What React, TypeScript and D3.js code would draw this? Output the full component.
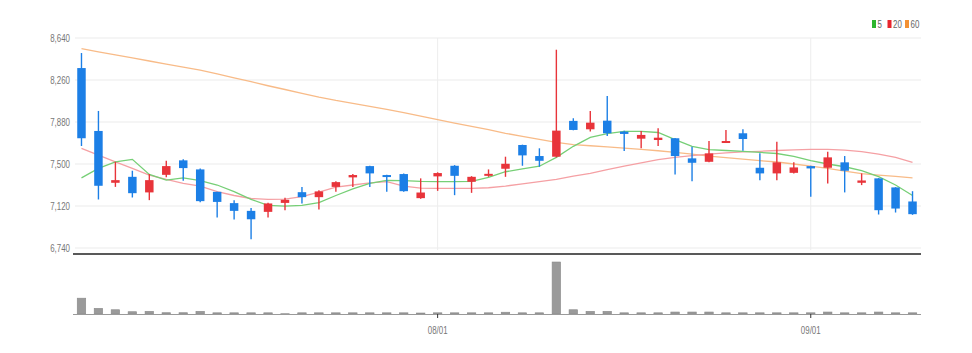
import React, { useRef, useEffect } from 'react';
import * as d3 from 'd3';

// trading days (MM/DD)
const dates = [
  '07/01', '07/04', '07/05', '07/06', '07/07', '07/08', '07/11', '07/12', '07/13', '07/14',
  '07/15', '07/18', '07/19', '07/20', '07/21', '07/22', '07/25', '07/26', '07/27', '07/28',
  '07/29', '08/01', '08/02', '08/03', '08/04', '08/05', '08/08', '08/09', '08/10', '08/11',
  '08/12', '08/16', '08/17', '08/18', '08/19', '08/22', '08/23', '08/24', '08/25', '08/26',
  '08/29', '08/30', '08/31', '09/01', '09/02', '09/05', '09/06', '09/07', '09/08', '09/13',
];

const opens = [
  8368, 7799, 7330, 7384, 7243, 7402, 7533, 7451, 7248, 7146,
  7076, 7067, 7148, 7245, 7200, 7293, 7379, 7481, 7400, 7409,
  7191, 7388, 7484, 7339, 7397, 7457, 7672, 7572, 7566, 7890,
  7814, 7892, 7793, 7729, 7717, 7733, 7551, 7520, 7693, 7778,
  7466, 7415, 7420, 7481, 7466, 7515, 7330, 7370, 7288, 7161,
];
const highs = [
  8504, 7980, 7520, 7439, 7409, 7529, 7542, 7460, 7250, 7173,
  7103, 7150, 7194, 7293, 7262, 7345, 7410, 7484, 7402, 7415,
  7370, 7425, 7490, 7390, 7451, 7566, 7675, 7642, 8534, 7914,
  7980, 8116, 7800, 7799, 7823, 7735, 7657, 7708, 7808, 7814,
  7597, 7702, 7515, 7485, 7611, 7572, 7415, 7372, 7290, 7254,
];
const lows = [
  7663, 7179, 7293, 7197, 7173, 7379, 7348, 7155, 7016, 6998,
  6819, 7016, 7082, 7143, 7088, 7248, 7293, 7293, 7248, 7248,
  7185, 7257, 7218, 7239, 7384, 7384, 7484, 7475, 7560, 7805,
  7793, 7753, 7617, 7642, 7663, 7406, 7345, 7515, 7690, 7620,
  7354, 7354, 7415, 7203, 7324, 7243, 7309, 7043, 7061, 7040,
];
const closes = [
  7733, 7303, 7354, 7236, 7354, 7481, 7463, 7164, 7157, 7076,
  7000, 7143, 7176, 7200, 7252, 7336, 7400, 7415, 7382, 7254,
  7242, 7418, 7393, 7384, 7411, 7502, 7578, 7529, 7802, 7808,
  7874, 7778, 7772, 7763, 7738, 7572, 7511, 7596, 7708, 7726,
  7415, 7515, 7469, 7460, 7560, 7439, 7351, 7082, 7097, 7046,
];
const volumes = [
  160, 57, 43, 23, 27, 13, 13, 27, 12, 12,
  12, 12, 3, 12, 12, 12, 12, 12, 12, 12,
  10, 12, 12, 12, 12, 18, 12, 12, 526, 43,
  27, 27, 12, 12, 12, 20, 20, 20, 12, 12,
  12, 12, 12, 12, 20, 12, 12, 20, 12, 12,
];

// moving averages
const ma5 = [
  7375, 7460, 7520, 7542, 7406, 7354, 7375, 7350, 7310, 7250,
  7180, 7125, 7118, 7125, 7150, 7215, 7275, 7325, 7352, 7350,
  7342, 7340, 7340, 7342, 7380, 7430, 7455, 7480, 7560, 7660,
  7740, 7775, 7795, 7795, 7785, 7720, 7660, 7630, 7622, 7615,
  7605, 7595, 7570, 7530, 7500, 7475, 7440, 7385, 7310, 7215,
];
const ma20 = [
  7642, 7580, 7520, 7460, 7400, 7360, 7325, 7300, 7250, 7215,
  7188, 7180, 7182, 7205, 7245, 7290, 7310, 7330, 7340, 7300,
  7282, 7280, 7280, 7280, 7285, 7300, 7320, 7340, 7360, 7390,
  7415, 7450, 7480, 7510, 7540, 7560, 7575, 7590, 7600, 7610,
  7615, 7622, 7628, 7632, 7632, 7625, 7612, 7590, 7560, 7515,
];
const ma60 = [
  8543, 8515, 8488, 8460, 8432, 8404, 8377, 8350, 8315, 8280,
  8245, 8208, 8174, 8139, 8105, 8075, 8049, 8022, 7995, 7965,
  7933, 7902, 7870, 7840, 7810, 7778, 7750, 7722, 7695, 7675,
  7665, 7655, 7643, 7632, 7620, 7605, 7590, 7572, 7557, 7545,
  7530, 7518, 7500, 7480, 7460, 7435, 7413, 7400, 7388, 7375,
];

const priceTicks = [6740, 7120, 7500, 7880, 8260, 8640];
const xTickLabels = ['08/01', '09/01'];
const legendNames = ['5', '20', '60'];

const UP = '#e8343a';
const DOWN = '#1c7fe6';
const FONT = '"Liberation Sans", Arial, sans-serif';
const SQUEEZE = 'scale(0.72,1)'; // labels in the original are a narrow face

const App = () => {
  const chartRef = useRef(null);

  useEffect(() => {
    document.body.style.margin = '0';
    const W = 972, H = 353;
    const left = 73, right = 921;

    const svg = d3.select(chartRef.current)
      .attr('width', W)
      .attr('height', H)
      .html('');

    const x = d3.scaleBand()
      .domain(dates)
      .range([left, right])
      .paddingInner(0.5)
      .paddingOuter(0.25);
    const bw = x.bandwidth();
    const cx = (i) => x(dates[i]) + bw / 2;

    const y = d3.scaleLinear().domain([6740, 8640]).range([248, 38]);
    const yVol = d3.scaleLinear().domain([0, d3.max(volumes)]).range([314, 262]);

    // grid
    svg.append('g')
      .selectAll('line')
      .data(priceTicks)
      .enter().append('line')
      .attr('x1', left + 2).attr('x2', right)
      .attr('y1', d => y(d)).attr('y2', d => y(d))
      .attr('stroke', '#ececec')
      .attr('stroke-width', 1.2);

    svg.append('g')
      .selectAll('line')
      .data(xTickLabels)
      .enter().append('line')
      .attr('x1', d => x(d) + bw / 2).attr('x2', d => x(d) + bw / 2)
      .attr('y1', 38).attr('y2', 250)
      .attr('stroke', '#ededed')
      .attr('stroke-width', 1);

    // y labels
    svg.append('g')
      .selectAll('g')
      .data(priceTicks)
      .enter().append('g')
      .attr('transform', d => `translate(70,${y(d)}) ${SQUEEZE}`)
      .append('text')
      .attr('dy', '0.35em')
      .attr('text-anchor', 'end')
      .attr('font-family', FONT)
      .attr('font-size', 11)
      .attr('fill', '#777')
      .text(d => d3.format(',')(d));

    // moving averages
    const line = d3.line().x((d, i) => cx(i)).y(d => y(d));
    [[ma60, '#f8bb88'], [ma20, '#f5a0a4'], [ma5, '#76cf76']].forEach(([vals, color]) => {
      svg.append('path')
        .datum(vals)
        .attr('d', line)
        .attr('fill', 'none')
        .attr('stroke', color)
        .attr('stroke-width', 1.3);
    });

    // candles
    const candles = svg.append('g')
      .selectAll('g')
      .data(dates.map((d, i) => i))
      .enter().append('g');

    candles.append('line')
      .attr('x1', i => cx(i)).attr('x2', i => cx(i))
      .attr('y1', i => y(highs[i])).attr('y2', i => y(lows[i]))
      .attr('stroke', i => (closes[i] >= opens[i] ? UP : DOWN))
      .attr('stroke-width', 1.4);

    candles.append('rect')
      .attr('x', i => x(dates[i]))
      .attr('width', bw)
      .attr('y', i => y(Math.max(opens[i], closes[i])))
      .attr('height', i => Math.max(2, Math.abs(y(opens[i]) - y(closes[i]))))
      .attr('fill', i => (closes[i] >= opens[i] ? UP : DOWN));

    // price panel bottom line
    svg.append('line')
      .attr('x1', left).attr('x2', right)
      .attr('y1', 254).attr('y2', 254)
      .attr('stroke', '#222')
      .attr('stroke-width', 1.6);

    // volume
    svg.append('g')
      .selectAll('rect')
      .data(volumes)
      .enter().append('rect')
      .attr('x', (d, i) => x(dates[i]))
      .attr('width', bw)
      .attr('y', d => yVol(d))
      .attr('height', d => 314 - yVol(d))
      .attr('fill', '#9a9a9a')
      .attr('stroke', '#8a8a8a')
      .attr('stroke-width', 0.6);

    svg.append('line')
      .attr('x1', left).attr('x2', right)
      .attr('y1', 314.5).attr('y2', 314.5)
      .attr('stroke', '#9a9a9a')
      .attr('stroke-width', 1.2);

    // x ticks
    const xt = svg.append('g')
      .selectAll('g')
      .data(xTickLabels)
      .enter().append('g')
      .attr('transform', d => `translate(${x(d) + bw / 2},0)`);
    xt.append('line')
      .attr('y1', 314).attr('y2', 318)
      .attr('stroke', '#333');
    xt.append('g')
      .attr('transform', `translate(0,330) ${SQUEEZE}`)
      .append('text')
      .attr('dy', '0.35em')
      .attr('text-anchor', 'middle')
      .attr('font-family', FONT)
      .attr('font-size', 11)
      .attr('fill', '#777')
      .text(d => d);

    // legend
    const legendColors = ['#2db52d', '#e8262e', '#f39134'];
    const legendX = [872, 887.5, 905];
    const legend = svg.append('g')
      .selectAll('g')
      .data(legendNames)
      .enter().append('g')
      .attr('transform', (d, i) => `translate(${legendX[i]},20)`);
    legend.append('rect')
      .attr('width', 4).attr('height', 8)
      .attr('fill', (d, i) => legendColors[i]);
    legend.append('g')
      .attr('transform', `translate(5.5,4) ${SQUEEZE}`)
      .append('text')
      .attr('dy', '0.35em')
      .attr('font-family', FONT)
      .attr('font-size', 11)
      .attr('fill', '#666')
      .text(d => d);
  }, []);

  return <svg ref={chartRef} style={{ display: 'block' }}></svg>;
};

export default App;
